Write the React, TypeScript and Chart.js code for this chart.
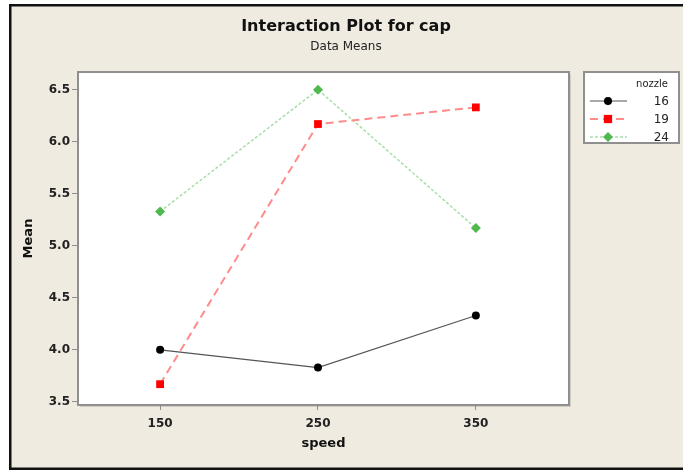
import React, { useEffect, useRef } from "react";
import { Chart, registerables } from "chart.js";

Chart.register(...registerables);

const speeds = [150, 250, 350];
const nozzle16 = [4.0, 3.83, 4.33];
const nozzle19 = [3.67, 6.17, 6.33];
const nozzle24 = [5.33, 6.5, 5.17];
const nozzleLabels = ["16", "19", "24"];
const yTicks = [3.5, 4.0, 4.5, 5.0, 5.5, 6.0, 6.5];
const xTicks = [150, 250, 350];

const FONT = "'DejaVu Sans', Tahoma, sans-serif";
const BG = "#efebe1";

const framePlugin = {
  id: "frame",
  beforeDraw(chart: any) {
    const { ctx, width, height, chartArea } = chart;
    ctx.save();
    ctx.fillStyle = "#ffffff";
    ctx.fillRect(0, 0, width, height);
    ctx.fillStyle = BG;
    ctx.fillRect(11, 6, width - 11, 462);
    ctx.fillStyle = "#111";
    ctx.fillRect(9, 4, width - 9, 2.5);
    ctx.fillRect(9, 4, 2.5, 466);
    ctx.fillRect(9, 467.5, width - 9, 2.5);
    ctx.fillStyle = "#ffffff";
    ctx.fillRect(chartArea.left, chartArea.top, chartArea.right - chartArea.left, chartArea.bottom - chartArea.top);
    ctx.restore();
  },
  afterDatasetsDraw(chart: any) {
    const { ctx, chartArea } = chart;
    ctx.save();
    ctx.strokeStyle = "#8f8f8f";
    ctx.lineWidth = 2;
    ctx.strokeRect(chartArea.left, chartArea.top, chartArea.right - chartArea.left, chartArea.bottom - chartArea.top);
    ctx.strokeStyle = "rgba(0,0,0,0.12)";
    ctx.lineWidth = 1;
    ctx.beginPath();
    ctx.moveTo(chartArea.right + 1.5, chartArea.top + 2);
    ctx.lineTo(chartArea.right + 1.5, chartArea.bottom + 1.5);
    ctx.lineTo(chartArea.left + 2, chartArea.bottom + 1.5);
    ctx.stroke();

    ctx.fillStyle = "#111";
    ctx.textAlign = "center";
    ctx.textBaseline = "middle";
    ctx.font = `bold 16px ${FONT}`;
    ctx.fillText("Interaction Plot for cap", 346, 27);
    ctx.font = `12px ${FONT}`;
    ctx.fillStyle = "#222";
    ctx.fillText("Data Means", 346, 47);

    const lx = 584, ly = 72, lw = 95, lh = 71;
    ctx.fillStyle = "#ffffff";
    ctx.fillRect(lx, ly, lw, lh);
    ctx.strokeStyle = "#8f8f8f";
    ctx.lineWidth = 2;
    ctx.strokeRect(lx, ly, lw, lh);
    ctx.fillStyle = "#222";
    ctx.textAlign = "right";
    ctx.font = `10px ${FONT}`;
    ctx.fillText("nozzle", 668, 84);
    ctx.font = `12px ${FONT}`;
    const rows = [101, 119, 137];
    chart.data.datasets.forEach((ds: any, i: number) => {
      const y = rows[i];
      ctx.save();
      ctx.strokeStyle = ds.borderColor;
      ctx.lineWidth = ds.borderWidth;
      ctx.setLineDash(ds.borderDash || []);
      ctx.beginPath();
      ctx.moveTo(590, y);
      ctx.lineTo(627, y);
      ctx.stroke();
      ctx.setLineDash([]);
      ctx.fillStyle = ds.pointBackgroundColor;
      const r = ds.pointRadius;
      if (ds.pointStyle === "circle") {
        ctx.beginPath();
        ctx.arc(608, y, r, 0, Math.PI * 2);
        ctx.fill();
      } else if (ds.pointStyle === "rect") {
        ctx.fillRect(608 - r * 0.75, y - r * 0.75, r * 1.5, r * 1.5);
      } else {
        ctx.beginPath();
        ctx.moveTo(608, y - r);
        ctx.lineTo(608 + r, y);
        ctx.lineTo(608, y + r);
        ctx.lineTo(608 - r, y);
        ctx.closePath();
        ctx.fill();
      }
      ctx.restore();
      ctx.fillStyle = "#222";
      ctx.fillText(nozzleLabels[i], 669, y + 1);
    });
    ctx.restore();
  },
};

export default function App() {
  const ref = useRef<HTMLCanvasElement>(null);
  useEffect(() => {
    document.body.style.margin = "0";
    const mk = (arr: number[]) => arr.map((v, i) => ({ x: speeds[i], y: v }));
    const chart = new Chart(ref.current!, {
      type: "line",
      data: {
        datasets: [
          {
            label: nozzleLabels[0],
            data: mk(nozzle16),
            borderColor: "#555555",
            borderWidth: 1.2,
            pointStyle: "circle",
            pointRadius: 4,
            pointBackgroundColor: "#000000",
            pointBorderWidth: 0,
          },
          {
            label: nozzleLabels[1],
            data: mk(nozzle19),
            borderColor: "#ff8c8c",
            borderWidth: 2,
            borderDash: [8, 5],
            pointStyle: "rect",
            pointRadius: 5.5,
            pointBackgroundColor: "#ff0000",
            pointBorderWidth: 0,
          },
          {
            label: nozzleLabels[2],
            data: mk(nozzle24),
            borderColor: "#a9dea9",
            borderWidth: 1.5,
            borderDash: [3, 2],
            pointStyle: "rectRot",
            pointRadius: 5,
            pointBackgroundColor: "#4fb84f",
            pointBorderWidth: 0,
          },
        ] as any,
      },
      options: {
        animation: false,
        responsive: false,
        layout: { padding: { left: 17, right: 114, top: 72, bottom: 16 } },
        plugins: { legend: { display: false }, tooltip: { enabled: false } },
        elements: { line: { tension: 0 } },
        scales: {
          x: {
            type: "linear",
            min: 98,
            max: 409,
            afterBuildTicks: (s: any) => {
              s.ticks = xTicks.map((v) => ({ value: v }));
            },
            afterFit: (s: any) => {
              s.height = 50;
            },
            grid: { drawOnChartArea: false, drawTicks: true, tickLength: 5, color: "#8f8f8f" },
            border: { display: false },
            ticks: {
              color: "#222",
              font: { family: FONT, size: 12, weight: "bold" },
              padding: 7,
              maxRotation: 0,
              callback: (v: any) => String(v),
            },
            title: {
              display: true,
              text: "speed",
              color: "#111",
              font: { family: FONT, size: 13, weight: "bold" },
              padding: { top: 2, bottom: 4 },
            },
          },
          y: {
            type: "linear",
            min: 3.47,
            max: 6.67,
            afterBuildTicks: (s: any) => {
              s.ticks = yTicks.map((v) => ({ value: v }));
            },
            afterFit: (s: any) => {
              s.width = 61;
            },
            grid: { drawOnChartArea: false, drawTicks: true, tickLength: 6, color: "#8f8f8f" },
            border: { display: false },
            ticks: {
              color: "#222",
              font: { family: FONT, size: 12, weight: "bold" },
              padding: 2,
              callback: (v: any) => Number(v).toFixed(1),
            },
            title: {
              display: true,
              text: "Mean",
              color: "#111",
              font: { family: FONT, size: 13, weight: "bold" },
              padding: { top: 4, bottom: 4 },
            },
          },
        },
      } as any,
      plugins: [framePlugin],
    });
    return () => chart.destroy();
  }, []);
  return (
    <div style={{ width: 683, height: 471 }}>
      <canvas ref={ref} width={683} height={471} style={{ display: "block" }} />
    </div>
  );
}
